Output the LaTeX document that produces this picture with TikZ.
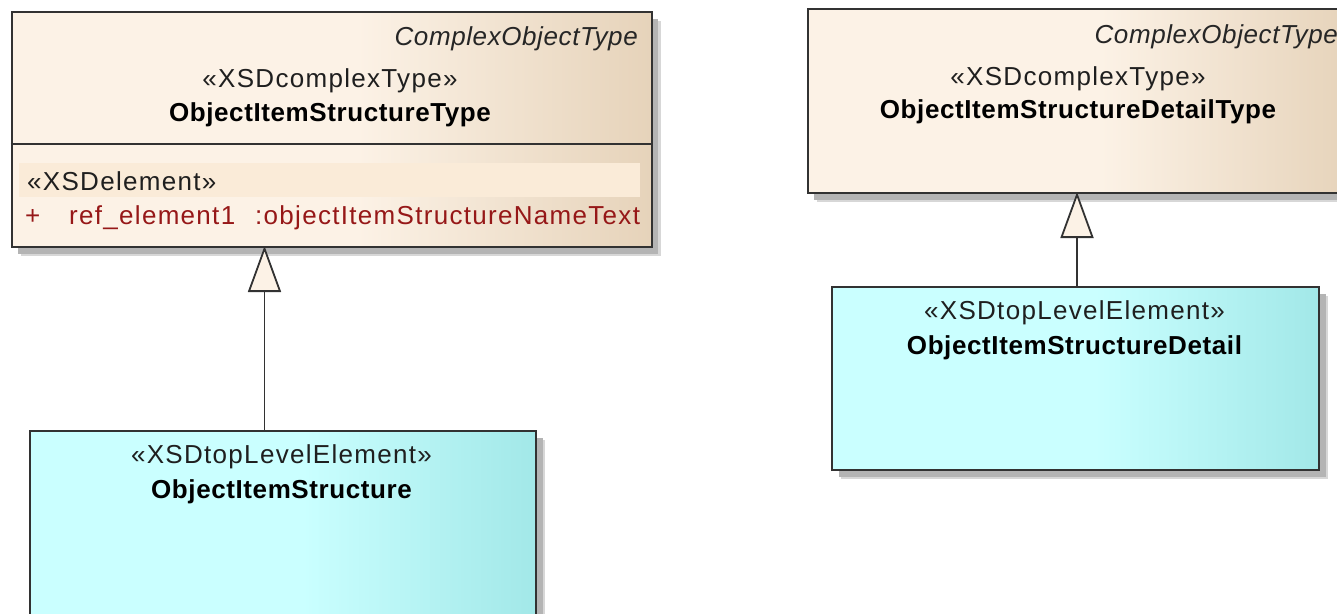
\documentclass[tikz,border=0pt]{standalone}
\usepackage{fontspec}
\setmainfont{Liberation Sans}
\newfontfamily\umlreg[LetterSpace=5]{Liberation Sans}
\newfontfamily\umlbold[LetterSpace=2.3]{Liberation Sans}
\usetikzlibrary{arrows.meta,shadows}

\definecolor{beigeL}{RGB}{252,242,230}
\definecolor{beigeR}{RGB}{230,211,186}
\definecolor{cyanL}{RGB}{202,255,255}
\definecolor{cyanR}{RGB}{162,232,232}
\definecolor{bandcol}{RGB}{250,235,216}
\definecolor{attrcol}{RGB}{150,24,24}
\definecolor{edgecol}{RGB}{50,50,50}
\definecolor{shadowcol}{RGB}{180,180,180}
\definecolor{softshadow}{RGB}{215,215,215}

% horizontal fades: flat on the left, darker towards the right edge
\pgfdeclarehorizontalshading{beigefade}{100bp}{color(0bp)=(beigeL); color(25bp)=(beigeL); color(52bp)=(beigeL); color(75bp)=(beigeR); color(100bp)=(beigeR)}
\pgfdeclarehorizontalshading{cyanfade}{100bp}{color(0bp)=(cyanL); color(25bp)=(cyanL); color(52bp)=(cyanL); color(75bp)=(cyanR); color(100bp)=(cyanR)}

\tikzset{
  umlbox/.style={draw=edgecol, line width=2pt, inner sep=0pt, anchor=north west,
    drop shadow={shadow xshift=9pt, shadow yshift=-9pt, fill=softshadow, opacity=1},
    drop shadow={shadow xshift=6.5pt, shadow yshift=-6.5pt, fill=shadowcol, opacity=1}},
  typebox/.style={umlbox, shading=beigefade},
  elembox/.style={umlbox, shading=cyanfade},
  txt/.style={inner sep=0pt, anchor=base, font=\umlreg\fontsize{26}{30}\selectfont, text=black!88},
  nametxt/.style={txt, font=\umlbold\bfseries\fontsize{26}{30}\selectfont, text=black},
  notetxt/.style={txt, anchor=base east, font=\umlbold\itshape\fontsize{26}{30}\selectfont, text=black!85},
  attrtxt/.style={txt, anchor=base west, text=attrcol},
  gen/.style={draw=edgecol, line width=1.8pt,
    -{Triangle[width=33pt, length=46pt, fill=beigeL]}}
}

\begin{document}
\begin{tikzpicture}[x=1pt, y=-1pt]
\useasboundingbox (0,0) rectangle (1337,613);
\clip (0,0) rectangle (1337,613);

% ---- ObjectItemStructureType ----
\node[typebox, minimum width=640pt, minimum height=235pt] (t1) at (10.5,11) {};
\draw[edgecol, line width=2pt] (t1.west |- 0,144) coordinate (s1a) -- (t1.east |- 0,144) coordinate (s1b);
\fill[bandcol] (19,163) rectangle (640,197);
\node[notetxt] (t1note) at (638,45) {ComplexObjectType};
\node[txt] (t1st) at (330,87) {«XSDcomplexType»};
\node[nametxt] (t1name) at (330,121) {ObjectItemStructureType};
\node[txt, anchor=base west] (t1attst) at (27,190) {«XSDelement»};
\node[attrtxt] (t1plus) at (25,224) {+};
\node[attrtxt] (t1attr) at (69,224) {ref\_element1};
\node[attrtxt] (t1attype) at (255,224) {:objectItemStructureNameText};

% ---- ObjectItemStructureDetailType ----
\node[typebox, minimum width=543pt, minimum height=184pt] (t2) at (806.6,8) {};
\node[notetxt] (t2note) at (1338,43) {ComplexObjectType};
\node[txt] (t2st) at (1078,85) {«XSDcomplexType»};
\node[nametxt] (t2name) at (1078,118) {ObjectItemStructureDetailType};

% ---- ObjectItemStructure ----
\node[elembox, minimum width=506.5pt, minimum height=250pt] (c1) at (28.5,430) {};
\node[txt] (c1st) at (281.5,463) {«XSDtopLevelElement»};
\node[nametxt] (c1name) at (281.5,498) {ObjectItemStructure};

% ---- ObjectItemStructureDetail ----
\node[elembox, minimum width=487pt, minimum height=183pt] (c2) at (831,286) {};
\node[txt] (c2st) at (1074.5,319) {«XSDtopLevelElement»};
\node[nametxt] (c2name) at (1074.5,354) {ObjectItemStructureDetail};

% ---- generalisations ----
\coordinate (g1) at (264.5,246);
\coordinate (g2) at (1077,192);
\draw[gen] (c1.north -| g1) -- (g1);
\draw[gen] (c2.north -| g2) -- (g2);
\end{tikzpicture}
\end{document}
